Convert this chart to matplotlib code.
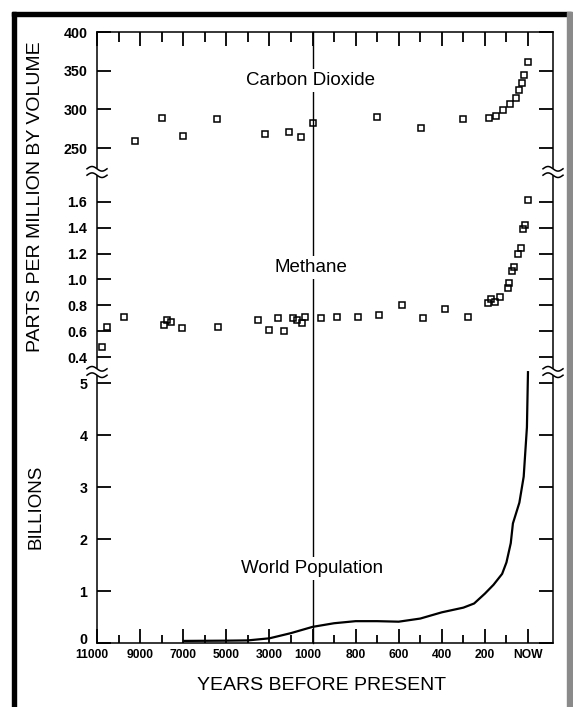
import numpy as np
import matplotlib
matplotlib.use('Agg')
import matplotlib.pyplot as plt
from matplotlib.lines import Line2D
from matplotlib.patches import Rectangle
import matplotlib.transforms as mtransforms

plt.rcParams['font.family'] = ['Liberation Sans', 'DejaVu Sans']

# ---------------- data (years before present) ----------------
co2_years = [9230, 7980, 7000, 5420, 3190, 2070, 1530, 1000, 700, 495, 300,
             181, 148, 116, 83, 56, 42, 28, 19, 0]
co2_ppm = [259, 289, 265.5, 287.5, 268, 270.7, 264, 282.7, 290, 275.8, 287.5,
           288.8, 291.4, 299, 307, 314.7, 325, 334, 344.4, 361]

ch4_years = [10770, 10535, 9745, 7885, 7745, 7560, 7045, 5370, 3510, 3000,
             2580, 2300, 1885, 1700, 1465, 1325, 960, 885, 790, 690, 585, 485,
             385, 280, 185, 170, 155, 130, 95, 88, 74, 65, 46, 33, 23, 14, 0]
ch4_ppm = [0.477, 0.632, 0.71, 0.648, 0.686, 0.67, 0.625, 0.632, 0.686, 0.609,
           0.702, 0.601, 0.702, 0.686, 0.663, 0.71, 0.702, 0.71, 0.71, 0.725,
           0.80, 0.702, 0.77, 0.71, 0.818, 0.849, 0.826, 0.865, 0.934, 0.973,
           1.066, 1.097, 1.197, 1.244, 1.391, 1.422, 1.615]

pop_years = [7000, 5000, 4000, 3000, 2000, 1000, 900, 800, 700, 600, 500, 400,
             300, 250, 200, 160, 120, 100, 80, 70, 55, 40, 20, 5, 0]
pop_billions = [0.04, 0.045, 0.05, 0.09, 0.19, 0.31, 0.38, 0.42, 0.42, 0.41,
                0.47, 0.59, 0.68, 0.76, 0.95, 1.12, 1.33, 1.55, 1.92, 2.3, 2.5,
                2.7, 3.2, 4.15, 5.23]

x_major = [11000, 9000, 7000, 5000, 3000, 1000, 800, 600, 400, 200, 0]
x_major_labels = ['11000', '9000', '7000', '5000', '3000', '1000', '800', '600',
                  '400', '200', 'NOW']
x_minor = [10000, 8000, 6000, 4000, 2000, 900, 700, 500, 300, 100]

co2_ticks = [250, 300, 350, 400]
ch4_ticks = [0.4, 0.6, 0.8, 1.0, 1.2, 1.4, 1.6]
pop_ticks = [0, 1, 2, 3, 4, 5]

# ---------------- broken time scale ----------------
def fwd(t):
    t = np.asarray(t, dtype=float)
    return np.where(t >= 1000, (11000 - t) / 1000.0, 10 + (1000 - t) / 100.0)

def inv(u):
    u = np.asarray(u, dtype=float)
    return np.where(u <= 10, 11000 - 1000 * u, 1000 - 100 * (u - 10))

W, H = 573, 707
fig = plt.figure(figsize=(W / 100, H / 100), dpi=100)
fig.patch.set_facecolor('white')

LEFT, RIGHT = 97, 553

def rect(top, bottom):
    return [LEFT / W, 1 - bottom / H, (RIGHT - LEFT) / W, (bottom - top) / H]

ax1 = fig.add_axes(rect(32, 168))
ax2 = fig.add_axes(rect(176, 368))
ax3 = fig.add_axes(rect(376, 643))

for ax in (ax1, ax2, ax3):
    ax.set_xscale('function', functions=(fwd, inv))
    ax.set_xlim(-116, 11000)
    ax.patch.set_visible(False)
    for s in ax.spines.values():
        s.set_linewidth(1.1)
    ax.tick_params(axis='y', which='both', direction='in', left=True,
                   right=True, length=10, width=1.3, pad=7,
                   labelsize=10.3)
    ax.set_xticks(x_major)
    ax.set_xticks(x_minor, minor=True)

ax1.spines['bottom'].set_visible(False)
ax2.spines['top'].set_visible(False)
ax2.spines['bottom'].set_visible(False)
ax3.spines['top'].set_visible(False)

ax1.tick_params(axis='x', which='both', direction='in', top=True, bottom=False,
                labeltop=False, labelbottom=False, width=1.3)
ax1.tick_params(axis='x', which='major', length=10)
ax1.tick_params(axis='x', which='minor', length=7)
ax2.tick_params(axis='x', which='both', top=False, bottom=False,
                labelbottom=False)
ax3.tick_params(axis='x', which='both', direction='in', top=False, bottom=True,
                width=1.3, labelsize=8.7, pad=4)
ax3.tick_params(axis='x', which='major', length=10)
ax3.tick_params(axis='x', which='minor', length=6)
ax3.set_xticklabels(x_major_labels)
for lab in ax3.get_xticklabels():
    lab.set_fontweight('bold')
    if lab.get_text() in ('11000', '1000'):
        lab.set_transform(lab.get_transform() + mtransforms.ScaledTranslation(
            -5 / 100, 0, fig.dpi_scale_trans))

# CO2
ax1.plot(co2_years, co2_ppm, linestyle='none', marker='s', markersize=5,
         markerfacecolor='none', markeredgecolor='black', markeredgewidth=1.1,
         clip_on=False)
ax1.set_ylim(224.2, 400)
ax1.set_yticks(co2_ticks)
ax1.set_yticklabels([str(v) for v in co2_ticks])

# Methane
ax2.plot(ch4_years, ch4_ppm, linestyle='none', marker='s', markersize=5,
         markerfacecolor='none', markeredgecolor='black', markeredgewidth=1.1,
         clip_on=False)
ax2.set_ylim(0.315, 1.801)
ax2.set_yticks(ch4_ticks)
ax2.set_yticklabels(['%.1f' % v for v in ch4_ticks])

# Population
ax3.plot(pop_years, pop_billions, color='black', linewidth=1.6,
         solid_capstyle='butt', clip_on=False)
ax3.set_ylim(0, 5.135)
ax3.set_yticks(pop_ticks)
ax3.set_yticklabels([str(v) for v in pop_ticks])

for ax in (ax1, ax2, ax3):
    for lab in ax.get_yticklabels():
        lab.set_fontweight('bold')
# lift the "0" label slightly so it sits above the 11000 label
for lab in ax3.get_yticklabels():
    if lab.get_text() == '0':
        lab.set_transform(lab.get_transform() + mtransforms.ScaledTranslation(
            0, 4 / 100, fig.dpi_scale_trans))

# vertical line at 1000 years through all panels
trans = mtransforms.blended_transform_factory(ax3.transData, fig.transFigure)
fig.add_artist(Line2D([1000, 1000], [1 - 643 / H, 1 - 32 / H], transform=trans,
                      color='black', linewidth=1.0, zorder=-1))

# axis break marks
def brk(xc, yc):
    dx = np.linspace(-10, 10, 40)
    for off in (-3.2, 3.2):
        dy = off + 2.3 * np.sin(2 * np.pi * dx / 20)
        fig.add_artist(Line2D((xc + dx) / W, 1 - (yc + dy) / H,
                              transform=fig.transFigure, color='black',
                              linewidth=1.1, zorder=5))

for yc in (172, 372):
    brk(LEFT, yc)
    brk(RIGHT, yc)

# series names
bb = dict(facecolor='white', edgecolor='none', pad=2)
fig.text(311 / W, 1 - 85 / H, 'Carbon Dioxide', ha='center', va='baseline',
         fontsize=13.5, bbox=bb, zorder=6)
fig.text(311 / W, 1 - 272 / H, 'Methane', ha='center', va='baseline',
         fontsize=13.5, bbox=bb, zorder=6)
fig.text(312 / W, 1 - 573 / H, 'World Population', ha='center',
         va='baseline', fontsize=13.5, bbox=bb, zorder=6)

# axis labels
fig.text(36 / W, 1 - 197 / H, 'PARTS PER MILLION BY VOLUME', rotation=90,
         ha='center', va='center', fontsize=14)
fig.text(36 / W, 1 - 507 / H, 'BILLIONS', rotation=90, ha='center',
         va='center', fontsize=13.5)
fig.text(322 / W, 1 - 686 / H, 'YEARS BEFORE PRESENT', ha='center',
         va='center', fontsize=14)

# frame
fig.add_artist(Rectangle((12 / W, 1 - 16 / H), 559 / W, 4 / H,
                         transform=fig.transFigure, color='black', zorder=7))
fig.add_artist(Rectangle((12 / W, 0), 4 / W, 1 - 12 / H,
                         transform=fig.transFigure, color='black', zorder=7))
fig.add_artist(Rectangle((567 / W, 0), 6 / W, 1 - 12 / H,
                         transform=fig.transFigure, color='#8a8a8a', zorder=7))

fig.savefig('out.png', dpi=100)
